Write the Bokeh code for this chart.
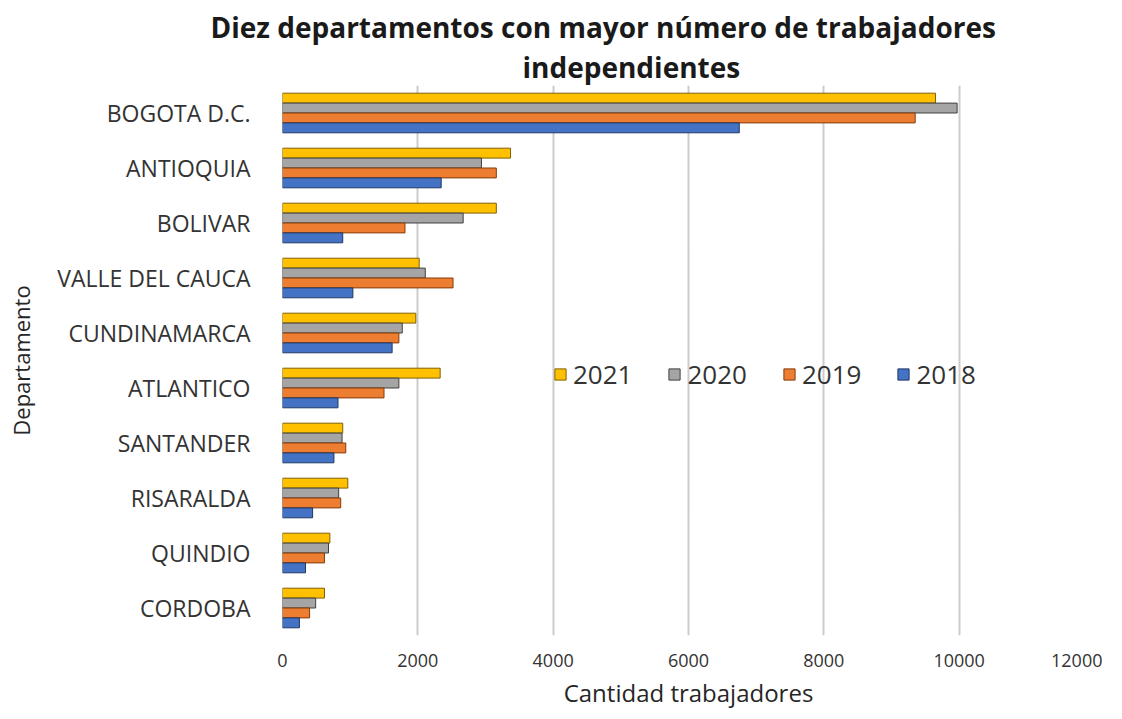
from bokeh.plotting import figure
from bokeh.models import ColumnDataSource, FactorRange, Title, SingleIntervalTicker
from bokeh.transform import dodge
from bokeh.embed import file_html
from bokeh.resources import INLINE

departamentos = ["BOGOTA D.C.", "ANTIOQUIA", "BOLIVAR", "VALLE DEL CAUCA", "CUNDINAMARCA",
                 "ATLANTICO", "SANTANDER", "RISARALDA", "QUINDIO", "CORDOBA"]
v2021 = [9650, 3370, 3160, 2020, 1970, 2330, 890, 965, 700, 620]
v2020 = [9970, 2940, 2670, 2110, 1770, 1720, 880, 830, 680, 490]
v2019 = [9350, 3160, 1810, 2520, 1720, 1500, 935, 860, 620, 400]
v2018 = [6750, 2345, 890, 1040, 1620, 820, 760, 445, 340, 250]
series = ["2021", "2020", "2019", "2018"]

src = ColumnDataSource(dict(dept=departamentos, v2021=v2021, v2020=v2020, v2019=v2019, v2018=v2018))

FONT = "Open Sans"
p = figure(y_range=FactorRange(factors=departamentos[::-1]), x_range=(0, 12000),
           frame_width=812, frame_height=550,
           min_border_left=282, min_border_right=8, min_border_top=85, min_border_bottom=72,
           output_backend="svg", toolbar_location=None)

p.add_layout(Title(text="independientes", align="left", offset=240, standoff=0, text_font=FONT,
                   text_font_size="28px", text_font_style="bold", text_color="#1a1a1a"), "above")
p.add_layout(Title(text="Diez departamentos con mayor número de trabajadores", align="left",
                   offset=-72, standoff=0, text_font=FONT, text_font_size="28px",
                   text_font_style="bold", text_color="#1a1a1a"), "above")

fills = ["#FFC000", "#A5A5A5", "#ED7D31", "#4472C4"]
lines = ["#7F6000", "#404040", "#843C0C", "#1F3864"]
offsets = [0.27, 0.09, -0.09, -0.27]
for s, off, fc, lc in zip(series, offsets, fills, lines):
    p.hbar(y=dodge("dept", off, range=p.y_range), right="v" + s, left=0, height=0.18,
           source=src, fill_color=fc, line_color=lc, line_width=1, legend_label=s)

p.xaxis.ticker = SingleIntervalTicker(interval=2000)
p.xaxis.axis_label = "Cantidad trabajadores"
p.yaxis.axis_label = "Departamento"
for ax in (p.xaxis, p.yaxis):
    ax.axis_line_color = None
    ax.major_tick_line_color = None
    ax.minor_tick_line_color = None
    ax.major_label_text_font = FONT
    ax.major_label_text_color = "#333333"
    ax.axis_label_text_font = FONT
    ax.axis_label_text_font_style = "normal"
    ax.axis_label_text_color = "#262626"
p.xaxis.major_label_text_font_size = "18px"
p.xaxis.major_label_standoff = 12
p.xaxis.axis_label_text_font_size = "24px"
p.xaxis.axis_label_standoff = 6
p.yaxis.major_label_text_font_size = "23px"
p.yaxis.major_label_standoff = 26
p.yaxis.axis_label_text_font_size = "22px"
p.yaxis.axis_label_standoff = 18

p.ygrid.grid_line_color = None
p.xgrid.grid_line_color = "#cccccc"
p.xgrid.grid_line_width = 2
p.outline_line_color = None

p.legend.orientation = "horizontal"
p.legend.location = (271, 243)
p.legend.background_fill_alpha = 0
p.legend.border_line_color = None
p.legend.label_text_font = FONT
p.legend.label_text_font_size = "26px"
p.legend.label_text_color = "#333333"
p.legend.glyph_width = 14
p.legend.glyph_height = 14
p.legend.spacing = 35
p.legend.label_standoff = 6
p.legend.padding = 0
p.legend.margin = 0

open("out.html", "w").write(file_html(p, INLINE))
